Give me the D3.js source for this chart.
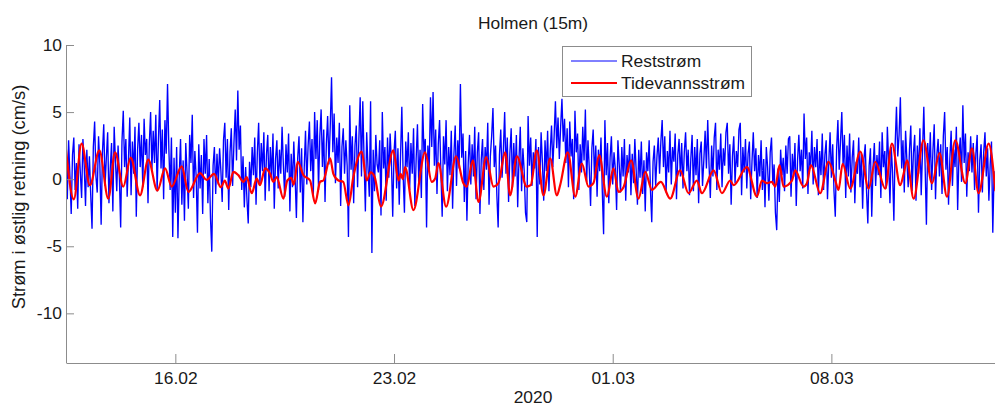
<!DOCTYPE html>
<html><head><meta charset="utf-8">
<script src="https://cdn.jsdelivr.net/npm/d3@7"></script>
<style>body{margin:0;background:#fff} svg{display:block} text{font-family:"Liberation Sans",Arial,sans-serif;fill:#1a1a1a}</style>
</head><body><svg id="c" width="995" height="406"></svg>
<script>
const title = "Holmen (15m)";
const yLabel = "Strøm i østlig retning (cm/s)";
const xLabel = "2020";
const seriesNames = ["Reststrøm", "Tidevannsstrøm"];
const startTime = Date.UTC(2020, 1, 12, 12);
const endTime = Date.UTC(2020, 2, 13, 6);
const xTickDates = ["2020-02-16", "2020-02-23", "2020-03-01", "2020-03-08"];
const xTickLabels = ["16.02", "23.02", "01.03", "08.03"];
const yTicks = [-10, -5, 0, 5, 10];
const yDomain = [-13.7, 10];

// Reststrøm, hourly values from 12.02 12:00 (one row per day)
const reststrom = [
2.1,-1.5,2.9,0.3,-2.6,1.8,3.1,-0.8,1.2,-2.2,2.6,0.5,-1.4,3.0,1.0,-2.0,2.2,-0.6,1.7,-1.2,-3.7,2.4,4.3,0.2,
-1.0,3.2,1.1,-3.4,2.0,4.1,-0.5,1.6,3.5,-1.8,0.8,2.7,-2.4,3.9,1.3,-0.9,2.5,0.2,-3.6,2.8,5.1,0.9,3.0,-1.3,
1.5,4.6,-1.2,2.8,0.4,3.9,-2.8,2.2,4.2,0.9,3.3,-0.6,4.5,1.8,3.0,-1.8,2.6,5.0,0.7,3.6,1.2,4.8,-0.9,2.9,
5.9,0.8,3.7,-1.5,4.4,1.9,7.1,2.3,-0.8,3.1,-4.3,1.6,-2.5,2.4,-4.4,0.3,3.0,-1.9,1.4,-3.1,2.7,0.5,-2.2,3.3,
1.2,4.8,-1.4,2.1,0.2,-4.0,2.6,-0.7,1.8,-2.6,3.0,0.4,3.3,-1.8,1.5,-2.9,-5.4,1.0,2.4,-1.1,1.9,-0.4,2.3,0.6,
-1.7,2.9,4.2,0.1,3.0,-2.3,2.0,3.8,-0.5,2.6,5.2,1.4,6.6,2.2,4.0,-0.8,1.7,-2.1,0.9,-1.5,-3.3,1.3,-0.6,2.4,
0.3,3.1,-1.9,2.0,4.2,-0.4,2.7,0.6,3.5,-1.6,1.8,3.3,-0.9,2.4,0.1,3.4,-2.2,1.5,2.9,-0.7,2.2,0.4,3.9,1.0,
-1.3,2.6,0.5,3.4,-2.4,1.9,-0.6,2.8,0.2,-2.9,1.6,3.2,-1.0,2.3,-3.2,0.8,3.6,-0.4,2.5,4.3,0.6,3.0,-1.2,5.0,
1.5,4.4,-0.8,3.2,5.2,0.9,3.7,-1.7,2.6,4.7,1.1,3.9,7.6,2.0,4.9,-0.3,3.1,1.2,4.2,-2.0,2.4,3.8,0.4,2.9,
1.0,-4.3,5.5,0.7,3.2,-1.8,2.5,4.0,-0.6,3.0,6.1,0.2,5.8,1.4,-2.4,3.5,0.9,-1.3,5.8,-5.5,2.2,-0.9,3.3,1.1,
0.5,2.9,-2.7,5.0,0.8,2.4,-1.6,3.1,0.1,3.4,1.3,-2.8,2.0,3.6,-0.7,2.3,-1.9,1.7,5.4,0.3,-2.5,2.8,0.9,3.5,
-0.8,2.7,0.4,3.8,-2.0,1.5,4.1,-0.3,2.2,-1.4,5.6,1.9,3.0,-3.6,2.5,0.7,6.1,2.4,6.5,1.0,3.7,-1.1,2.6,4.4,
0.6,-2.8,3.2,1.1,4.4,-0.9,2.4,0.3,3.6,-2.2,1.8,4.0,-0.5,2.9,0.8,7.1,1.6,3.4,-1.7,2.1,-3.1,1.2,3.3,-0.4,
2.6,0.2,3.9,-1.5,2.0,3.5,-2.6,1.4,3.0,-0.8,2.4,0.7,4.2,-1.9,1.7,3.2,5.3,0.9,2.5,-1.2,-3.6,1.8,3.7,0.1,
2.2,5.0,0.4,3.1,-1.7,1.9,3.8,-0.6,2.7,0.2,3.3,-2.1,1.5,3.9,-0.9,2.3,0.6,-2.5,-3.2,4.7,1.0,3.1,-0.5,2.0,
0.8,3.0,-4.3,2.4,-0.4,3.5,1.2,-1.6,2.9,0.6,3.6,-0.9,2.1,4.0,0.9,3.2,5.8,2.3,4.6,1.5,3.9,6.0,2.8,4.5,
1.2,3.8,-0.6,4.3,1.7,3.0,-1.5,5.1,2.0,3.4,-0.8,2.6,0.5,3.9,1.4,5.2,-0.2,2.9,0.8,-2.0,2.3,3.7,0.1,2.5,
-1.3,2.2,0.6,3.1,-0.9,-4.1,4.4,0.3,2.7,-1.8,1.6,3.2,-0.4,2.0,0.8,-2.3,2.9,1.1,-1.0,2.4,0.2,3.0,-1.6,1.8,
0.5,2.6,-1.2,1.9,-0.3,3.0,0.7,-1.9,2.2,0.1,2.8,-1.1,1.4,-2.4,2.0,0.6,2.9,-0.8,-3.2,1.3,2.5,-0.5,1.7,3.1,
0.4,2.8,4.4,0.9,3.2,-1.0,2.1,0.5,3.6,-0.4,2.4,1.3,3.4,-1.5,1.8,3.0,0.2,2.7,-0.7,2.0,3.5,0.6,2.2,-1.2,
1.5,3.3,-0.9,2.4,0.3,3.0,-1.8,1.9,2.8,-0.5,1.4,3.6,0.8,4.4,1.1,-1.4,2.5,0.2,3.1,4.2,-0.8,2.2,0.7,3.4,
-0.6,2.3,1.0,3.5,4.2,0.4,2.6,-1.9,1.7,3.2,-0.3,2.1,0.9,3.7,4.2,-1.2,2.4,0.5,3.0,-0.7,1.9,2.8,-1.5,1.3,
3.5,0.6,2.3,-1.4,1.8,0.2,2.9,-0.8,1.5,-2.1,2.4,0.9,-1.6,2.0,3.1,-0.4,1.1,-2.5,-3.8,0.8,-1.7,2.2,0.3,1.6,
-0.9,2.5,0.4,3.0,3.2,-1.3,1.9,0.2,2.7,-2.0,1.4,3.3,0.6,2.2,-0.7,4.9,1.5,3.1,-1.1,2.0,0.8,3.6,-0.4,2.4,
0.9,3.0,-1.2,2.1,0.3,3.4,-0.8,1.8,2.9,-1.5,1.2,3.5,0.1,2.6,-0.9,-2.8,2.2,4.4,0.7,2.8,5.0,1.0,3.3,-1.4,
2.5,0.2,3.4,-1.0,1.6,2.9,-1.8,1.3,0.4,3.1,-0.6,2.0,-2.2,1.5,2.6,-0.9,-3.3,1.0,2.3,-2.8,0.9,2.7,-0.5,1.8,
0.3,2.8,-1.4,3.5,0.9,2.1,-0.7,3.9,1.2,-1.8,2.4,0.5,-3.1,2.6,5.4,1.7,3.3,6.1,0.8,2.9,-1.0,3.6,1.4,-0.6,
2.2,4.0,-0.9,1.9,3.3,-1.6,2.5,0.4,3.8,-1.2,2.0,5.4,1.0,-3.4,2.7,0.6,3.5,-0.8,2.1,4.1,-1.5,1.8,3.0,0.2,
2.6,-1.1,3.2,5.0,0.7,2.4,-1.9,1.5,3.6,-0.5,2.2,0.9,3.9,-2.3,1.7,3.1,-0.2,5.5,1.2,3.4,-1.3,2.0,0.6,3.2,
0.5,2.7,-0.8,1.9,3.3,-2.5,1.4,2.6,-1.0,2.0,3.5,0.2,2.3,-1.6,1.1,2.8,-4.0,0.6
];

// Tidevannsstrøm: turning points (hours after 12.02 12:00) and values
const tideHours = [0,6,12,18.4,25.6,32.5,37.7,44,49.7,56.9,63.2,70.2,76.1,81.2,88.9,94,103,108,113.7,119,122,124.7,128.6,132.4,136.3,138.8,142.7,146.5,149,153,156.8,159.3,161.9,167,170,173,175,178,182.4,187.5,191.4,195.2,197.7,202.9,205.4,209.3,213,217,220.8,227.2,231,234,237,242,251.5,255.4,257.2,258.7,260.5,266.9,275.9,281,283.6,286.1,292,299.7,305.3,307.9,312.5,316.9,322.8,328.4,332.2,337.4,341.2,346.4,354,357,361.7,366.8,372,377.1,379.6,385.5,391.2,396.3,401.4,405.2,409.6,415.5,420.6,424.4,428.3,434.2,439.8,445,450.1,457,464.2,471.8,478.2,484.7,488.5,497.5,503.9,510.3,512.8,523.1,530.8,534.6,538.5,542.3,544.9,548.2,551.2,557.7,560.2,566.6,569.2,572.3,579.4,585.8,591,593.5,596.6,602.5,610.2,616.6,621.7,629.4,634.5,640.9,643.5,646.1,651.2,658.8,665.3,671.1,676.8,683.2,690.9,696,701.1,708.8,714];
const tideVals = [2.2,-1.5,2.65,-0.45,2.15,-1.45,2.0,-0.55,1.6,-1.2,1.45,-0.85,0.8,-0.55,0.95,-0.95,0.45,-0.05,0.4,-0.6,-0.1,-0.7,0.55,0.3,-0.2,0.15,-1.05,0.05,-0.45,0.8,0.4,-0.2,0.15,-1.45,-0.1,0.1,-0.4,1.3,0.3,-0.1,-1.8,-0.2,-0.1,1.55,0.4,-0.1,-0.2,-1.95,0.2,2.05,-0.1,0.5,0.2,-2.05,2.15,-0.1,0.4,0.0,0.9,-2.3,2.0,-0.2,0.05,1.2,-2.05,1.7,-0.3,-0.55,1.4,-1.7,1.65,-0.55,-0.3,2.0,-1.2,1.7,-0.55,-0.45,2.15,-1.2,1.55,-1.2,-0.45,2.0,-1.3,1.17,-0.55,-0.3,1.8,-1.3,0.8,-0.95,-0.6,1.4,-1.45,0.55,-0.8,-0.2,-1.45,0.65,-1.05,-0.1,-1.05,0.65,-1.05,-0.1,-0.45,0.9,-1.3,-0.1,-0.3,-0.2,-0.55,1.05,-0.55,-0.1,0.65,-0.55,-0.3,1.05,-1.05,1.3,-0.1,-0.8,1.15,-0.7,2.05,-0.7,1.3,-0.7,2.65,-0.45,0.4,1.4,-1.45,2.9,-0.3,1.95,-1.3,2.9,-0.3,2.3,-1.05,2.65,-0.9];

const svg = d3.select("#c");
const W = 995, H = 406;
const m = {left: 66, right: 995.4, top: 45, bottom: 363};
svg.append("rect").attr("width", W).attr("height", H).attr("fill", "#fff");

const x = d3.scaleUtc().domain([new Date(startTime), new Date(endTime)]).range([m.left, m.right]);
const y = d3.scaleLinear().domain(yDomain).range([m.bottom, m.top]);
const hourDate = h => new Date(startTime + h * 3600e3);

svg.append("defs").append("clipPath").attr("id", "clip")
  .append("rect").attr("x", m.left).attr("y", m.top).attr("width", W - m.left).attr("height", m.bottom - m.top);

const plot = svg.append("g").attr("clip-path", "url(#clip)");
const blueData = reststrom.map((v, i) => [hourDate(i), v]);
const redData = tideHours.map((h, i) => [hourDate(h), tideVals[i]]);

plot.append("path").datum(blueData)
  .attr("fill", "none").attr("stroke", "#0000ff").attr("stroke-width", 1.35)
  .attr("d", d3.line().x(d => x(d[0])).y(d => y(d[1])));
plot.append("path").datum(redData)
  .attr("fill", "none").attr("stroke", "#ff0000").attr("stroke-width", 2.2).attr("stroke-linejoin", "round")
  .attr("d", d3.line().curve(d3.curveMonotoneX).x(d => x(d[0])).y(d => y(d[1])));

// axes
const axisColor = "#8c8c8c";
const fs = "17.4px";
const xAxis = d3.axisBottom(x).tickValues(xTickDates.map(s => new Date(s + "T00:00:00Z")))
  .tickFormat((d, i) => xTickLabels[i]).tickSizeInner(-9).tickSizeOuter(0).tickPadding(9);
const gx = svg.append("g").attr("transform", `translate(0,${m.bottom})`).call(xAxis);
gx.select(".domain").attr("stroke", axisColor);
gx.selectAll(".tick line").attr("stroke", axisColor);
gx.selectAll(".tick text").style("font-size", fs).attr("fill", "#1a1a1a");

const yAxis = d3.axisLeft(y).tickValues(yTicks).tickFormat(d => String(d))
  .tickSizeInner(-8).tickSizeOuter(0).tickPadding(4);
const gy = svg.append("g").attr("transform", `translate(${m.left},0)`).call(yAxis);
gy.select(".domain").attr("stroke", axisColor).attr("d", `M0.5,${m.bottom}V${m.top}`);
gy.selectAll(".tick line").attr("stroke", axisColor);
gy.selectAll(".tick text").style("font-size", fs).attr("fill", "#1a1a1a");

// labels
svg.append("text").attr("x", 533).attr("y", 29).attr("text-anchor", "middle").style("font-size", fs).text(title);
svg.append("text").attr("x", 533).attr("y", 403).attr("text-anchor", "middle").style("font-size", fs).text(xLabel);
svg.append("text").attr("transform", "translate(25,197) rotate(-90)")
  .attr("text-anchor", "middle").style("font-size", "18.3px").text(yLabel);

// legend
const lg = svg.append("g");
lg.append("rect").attr("x", 562.5).attr("y", 46.5).attr("width", 189).attr("height", 50)
  .attr("fill", "#fff").attr("stroke", axisColor);
const colors = ["#0000ff", "#ff0000"];
const widths = [1, 2];
seriesNames.forEach((n, i) => {
  const yy = 61 + i * 22;
  lg.append("line").attr("x1", 571).attr("x2", 617).attr("y1", yy).attr("y2", yy)
    .attr("stroke", colors[i]).attr("stroke-width", widths[i]);
  lg.append("text").attr("x", 621).attr("y", yy + 6).style("font-size", fs).text(n);
});
</script></body></html>
